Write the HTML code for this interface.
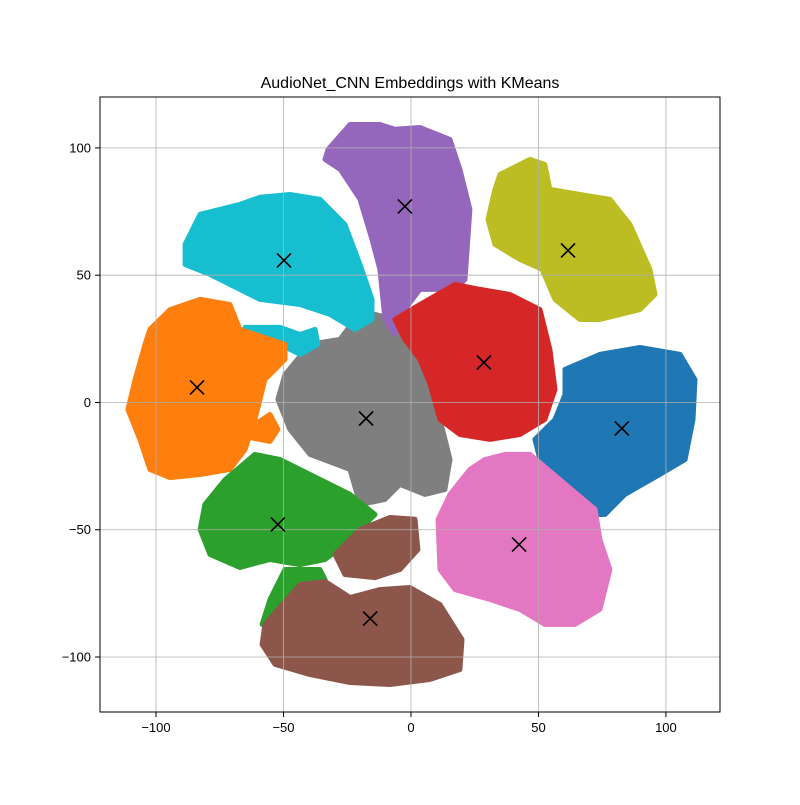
<!DOCTYPE html>
<html><head><meta charset="utf-8"><style>
body{margin:0;background:#fff}
svg text{font-family:"Liberation Sans",sans-serif}
</style></head><body>
<svg id="chart" width="800" height="800" xmlns="http://www.w3.org/2000/svg">
<rect width="800" height="800" fill="#fff"/>
<g id="clusters"></g>
<g id="grid"></g>
<g id="cents"></g>
<rect x="100" y="97" width="620" height="615" fill="none" stroke="#000" stroke-width="1"/>
<g id="ticks"></g>
<text x="410" y="88" text-anchor="middle" font-size="16">AudioNet_CNN Embeddings with KMeans</text>
</svg>
<script>
const xTicks=[-100,-50,0,50,100];
const yTicks=[-100,-50,0,50,100];
const clusterNames=['gray','purple','cyan','cyan-tail','orange','orange-blob','red','olive','blue','pink','green','green-lower','brown-upper','brown-lower'];
const clusterColors=['#7f7f7f','#9467bd','#17becf','#17becf','#ff7f0e','#ff7f0e','#d62728','#bcbd22','#1f77b4','#e377c2','#2ca02c','#2ca02c','#8c564b','#8c564b'];
const clusterShapes=[
[[-49.4,11],[-39.6,22.8],[-27.8,24.8],[-22,32.6],[-14.1,34.6],[-6.3,32.6],[3.5,24.8],[5.5,7.1],[11.4,-6.7],[15.3,-22.4],[13.3,-34.2],[5.5,-36.1],[-4.3,-32.2],[-10.2,-38.1],[-20,-40.1],[-23.9,-26.3],[-39.6,-20.4],[-47.5,-10.6],[-52.2,1.2]],
[[-32.5,99.4],[-23.9,109.2],[-12.2,109.2],[-6.3,107.3],[3.5,108],[15.3,103.3],[19.2,91.6],[23.1,75.8],[21.2,48.3],[17.3,44.4],[3.5,44.4],[-2.4,36.5],[-6.3,26.7],[-10.2,32.6],[-12.2,52.3],[-15.3,64],[-20,79.8],[-27.8,91.6],[-33.7,95.5]],
[[-88.6,62.1],[-82.7,73.9],[-67.1,77.8],[-59.2,80.6],[-47.5,81.7],[-35.7,79.8],[-25.9,69.9],[-20,54.2],[-15.3,40.5],[-15.3,32.6],[-22,28.7],[-31.8,34.6],[-43.5,38.5],[-59.2,40.5],[-71,46.4],[-78.8,50.3],[-88.6,54.2]],
[[-65.1,29.5],[-51.4,29.5],[-43.5,26.7],[-37.6,28.7],[-36.5,22.8],[-43.5,18.9],[-51.4,22.8],[-61.2,24.8]],
[[-102.4,28.7],[-94.5,36.5],[-82.7,40.5],[-71,38.5],[-67.1,28.7],[-49.4,22.8],[-49.4,16.9],[-57.3,9],[-61.2,-6.7],[-65.1,-18.5],[-71,-26.3],[-82.7,-28.3],[-94.5,-29.5],[-102.4,-26.3],[-106.3,-14.5],[-111,-2.8],[-108.2,9],[-104.3,22.8]],
[[-61.2,-8.6],[-55.3,-4.7],[-52.2,-10.6],[-55.3,-15.3],[-63.1,-13.8]],
[[-6.3,32.6],[3.5,38.5],[17.3,46.4],[27.1,44.4],[38.8,42.4],[50.6,36.5],[54.5,20.8],[56.5,5.1],[52.5,-6.7],[42.7,-12.6],[31,-14.5],[19.2,-12.6],[11.4,-6.7],[7.5,7.1],[3.5,16.9],[-2.4,24.8]],
[[32.9,83.7],[34.9,89.6],[46.7,95.5],[52.5,93.5],[54.5,83.7],[66.3,81.7],[78,79.8],[85.9,69.9],[93.7,52.3],[95.7,42.4],[89.8,36.5],[74.1,32.6],[66.3,32.6],[56.5,40.5],[51.4,52.3],[42.7,56.2],[32.9,62.1],[30.2,71.9]],
[[60.4,13],[74.1,18.9],[89.8,21.6],[105.5,18.9],[111.4,9],[110.6,-6.7],[107.5,-22.4],[97.6,-28.3],[83.9,-36.1],[76.1,-44],[68.2,-44],[60.4,-34.2],[50.6,-22.4],[48.6,-14.5],[56.5,-6.7],[60.4,3.1]],
[[36.9,-20.4],[46.7,-20.4],[58.4,-30.3],[72.2,-42],[74.1,-53.8],[78,-65.6],[74.1,-81.3],[64.3,-87.2],[52.5,-87.2],[42.7,-81.3],[31,-77.4],[17.3,-73.5],[11.4,-65.6],[10.6,-46],[15.3,-36.1],[23.1,-26.3],[29,-22.4]],
[[-72.9,-30.3],[-61.2,-20.4],[-51.4,-22.4],[-39.6,-28.3],[-23.9,-36.1],[-14.1,-44],[-25.9,-55.8],[-33.7,-61.7],[-43.5,-63.7],[-55.3,-61.7],[-67.1,-64.8],[-78.8,-59.7],[-82.7,-49.9],[-80.8,-40.1]],
[[-55.3,-77.4],[-49.4,-65.6],[-35.7,-65.6],[-33.7,-69.5],[-45.5,-77.4],[-53.3,-85.3],[-58.4,-87.2]],
[[-29.8,-59.7],[-20,-49.9],[-8.2,-45.2],[1.6,-45.9],[2.7,-57.8],[-4.3,-65.6],[-14.1,-68.8],[-25.9,-67.6]],
[[-57.3,-87.2],[-43.5,-71.5],[-33.7,-70.3],[-23.9,-76.6],[-12.2,-73.5],[-0.4,-72.7],[11.4,-79.4],[20,-93.1],[19.2,-104.9],[7.5,-108.8],[-8.2,-110.8],[-23.9,-110],[-39.6,-106.9],[-53.3,-102.9],[-58.4,-95.1]]
];
const centroidX=[-2.4,-49.8,61.6,-83.9,-17.6,28.6,82.7,-52.2,42.4,-16];
const centroidY=[77,55.8,59.7,5.9,-6.3,15.7,-10.2,-47.9,-55.8,-84.9];

const X0=100,X1=720,Y0=97,Y1=712;
const xMin=-121.96,xMax=121.2,yMin=-121.6,yMax=120;
const sx=v=>X0+(v-xMin)/(xMax-xMin)*(X1-X0);
const sy=v=>Y1-(v-yMin)/(yMax-yMin)*(Y1-Y0);
const NS='http://www.w3.org/2000/svg';
const mk=(t,a,p)=>{const e=document.createElementNS(NS,t);for(const k in a)e.setAttribute(k,a[k]);p.appendChild(e);return e;};

const cl=document.getElementById('clusters');
clusterShapes.forEach((pts,i)=>{
  const d=pts.map(p=>sx(p[0]).toFixed(1)+','+sy(p[1]).toFixed(1)).join(' ');
  const e=mk('polygon',{points:d,fill:clusterColors[i],stroke:clusterColors[i],'stroke-width':5,'stroke-linejoin':'round'},cl);
  
  
});
const g=document.getElementById('grid'),tk=document.getElementById('ticks');
xTicks.forEach(v=>{
  const x=sx(v);
  const l=mk('line',{x1:x,x2:x,y1:Y0,y2:Y1,stroke:'#b0b0b0','stroke-width':0.8},g);
  
  
  const t=mk('line',{x1:x,x2:x,y1:Y1,y2:Y1+5,stroke:'#000'},tk);
  
  
  const tx=mk('text',{x:x,y:Y1+20,'text-anchor':'middle','font-size':13},tk);
  tx.textContent=v<0?'\u2212'+(-v):String(v);
  
  
});
yTicks.forEach(v=>{
  const y=sy(v);
  const l=mk('line',{x1:X0,x2:X1,y1:y,y2:y,stroke:'#b0b0b0','stroke-width':0.8},g);
  
  
  const t=mk('line',{x1:X0-5,x2:X0,y1:y,y2:y,stroke:'#000'},tk);
  
  
  const tx=mk('text',{x:X0-9,y:y+4.5,'text-anchor':'end','font-size':13},tk);
  tx.textContent=v<0?'\u2212'+(-v):String(v);
  
  
});
const cg=document.getElementById('cents');
centroidX.forEach((cx,i)=>{
  const x=sx(cx),y=sy(centroidY[i]),r=7;
  const p=mk('path',{d:`M${x-r},${y-r}L${x+r},${y+r}M${x-r},${y+r}L${x+r},${y-r}`,stroke:'#000','stroke-width':1.6,fill:'none'},cg);
  
  
});
</script>
</body></html>
